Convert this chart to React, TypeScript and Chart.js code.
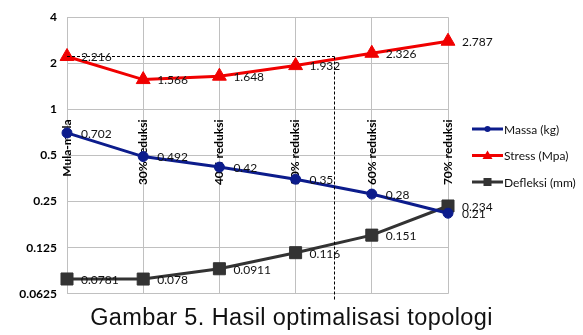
import React, { useEffect, useRef } from "react";
import { Chart, registerables } from "chart.js";

Chart.register(...registerables);

// Optimisation stages
const categories = ["Mula-mula", "30% reduksi", "40% reduksi", "50% reduksi", "60% reduksi", "70% reduksi"];

// Series values
const massa = [0.702, 0.492, 0.42, 0.35, 0.28, 0.21];
const stress = [2.216, 1.566, 1.648, 1.932, 2.326, 2.787];
const defleksi = [0.0781, 0.078, 0.0911, 0.116, 0.151, 0.234];

// Log-2 value axis ticks
const yTicks = [0.0625, 0.125, 0.25, 0.5, 1, 2, 4];
const yTickLabels = ["0.0625", "0.125", "0.25", "0.5", "1", "2", "4"];

// Reference level of the initial stress and where it is met again along the stages
const refStress = 2.216;
const refStage = 3.51;

const seriesNames = ["Massa (kg)", "Stress (Mpa)", "Defleksi (mm)"];
const seriesColors = ["#0c1c8c", "#f00000", "#333333"];
const seriesMarkers = ["circle", "triangle", "rect"];

const caption = "Gambar 5. Hasil optimalisasi topologi";

const LABEL_FONT = "12px Lato, 'Open Sans', sans-serif";

const valueLabels = {
  id: "valueLabels",
  afterDatasetsDraw(chart: any) {
    const ctx = chart.ctx;
    ctx.save();
    ctx.font = LABEL_FONT;
    ctx.fillStyle = "#111";
    ctx.textAlign = "left";
    ctx.textBaseline = "middle";
    chart.data.datasets.forEach((ds: any, di: number) => {
      const meta = chart.getDatasetMeta(di);
      meta.data.forEach((pt: any, i: number) => {
        ctx.fillText(String(ds.data[i]), pt.x + 14, pt.y + 1);
      });
    });
    ctx.restore();
  },
};

const refLines = {
  id: "refLines",
  afterDraw(chart: any) {
    const { ctx, chartArea } = chart;
    const xs = chart.scales.x;
    const ys = chart.scales.y;
    const y = ys.getPixelForValue(refStress);
    const x0 = xs.getPixelForValue(0);
    const x1 = xs.getPixelForValue(refStage);
    ctx.save();
    ctx.strokeStyle = "#000";
    ctx.lineWidth = 1;
    ctx.setLineDash([3, 2]);
    ctx.beginPath();
    ctx.moveTo(x0, Math.round(y) + 0.5);
    ctx.lineTo(x1, Math.round(y) + 0.5);
    ctx.moveTo(Math.round(x1) + 0.5, Math.round(y) + 0.5);
    ctx.lineTo(Math.round(x1) + 0.5, chartArea.bottom + 6);
    ctx.stroke();
    ctx.restore();
  },
};

function drawMarker(ctx: CanvasRenderingContext2D, kind: string, cx: number, cy: number, r: number) {
  ctx.beginPath();
  if (kind === "circle") {
    ctx.arc(cx, cy, r, 0, Math.PI * 2);
  } else if (kind === "triangle") {
    ctx.moveTo(cx, cy - r);
    ctx.lineTo(cx + r, cy + r * 0.7);
    ctx.lineTo(cx - r, cy + r * 0.7);
    ctx.closePath();
  } else {
    ctx.rect(cx - r, cy - r, 2 * r, 2 * r);
  }
  ctx.fill();
}

const sideLegend = {
  id: "sideLegend",
  afterDraw(chart: any) {
    const { ctx, chartArea } = chart;
    const mid = (chartArea.top + chartArea.bottom) / 2;
    const gap = 26.5;
    const x0 = chartArea.right + 24;
    const len = 31;
    ctx.save();
    seriesNames.forEach((name, i) => {
      const y = mid + (i - 1) * gap;
      ctx.strokeStyle = seriesColors[i];
      ctx.fillStyle = seriesColors[i];
      ctx.lineWidth = 3;
      ctx.beginPath();
      ctx.moveTo(x0, y);
      ctx.lineTo(x0 + len, y);
      ctx.stroke();
      const r = i === 0 ? 3 : i === 1 ? 5 : 4;
      drawMarker(ctx, seriesMarkers[i], x0 + len / 2, y, r);
      ctx.fillStyle = "#111";
      ctx.font = LABEL_FONT;
      ctx.textAlign = "left";
      ctx.textBaseline = "middle";
      ctx.fillText(name, x0 + len + 1, y + 1);
    });
    ctx.restore();
  },
};

export default function App() {
  const canvasRef = useRef<HTMLCanvasElement | null>(null);

  useEffect(() => {
    document.body.style.margin = "0";
    const canvas = canvasRef.current;
    if (!canvas) return;
    const seriesData = [massa, stress, defleksi];
    const chart = new Chart(canvas, {
      type: "line",
      data: {
        labels: categories,
        datasets: seriesData.map((d, i) => ({
          label: seriesNames[i],
          data: d,
          borderColor: seriesColors[i],
          backgroundColor: seriesColors[i],
          pointBackgroundColor: seriesColors[i],
          pointBorderColor: seriesColors[i],
          pointStyle: seriesMarkers[i] as any,
          pointRadius: i === 0 ? 5 : i === 1 ? 8 : 8.5,
          pointBorderWidth: 1,
          borderWidth: 3,
          tension: 0,
          fill: false,
        })),
      },
      options: {
        responsive: false,
        animation: false,
        layout: { padding: { top: 16, right: 135, bottom: 0, left: 0 } },
        plugins: {
          legend: { display: false },
          tooltip: { enabled: false },
        },
        scales: {
          x: {
            type: "category",
            position: { y: 1 } as any,
            offset: false,
            afterFit: (scale: any) => {
              scale.height = 0;
            },
            grid: { color: "#c0c0c0", lineWidth: 1, drawTicks: false },
            border: { display: false },
            ticks: {
              minRotation: 90,
              maxRotation: 90,
              autoSkip: false,
              padding: 10,
              color: "#000",
              font: { family: "Lato, 'Open Sans', sans-serif", size: 12, weight: "bold" },
            },
          },
          y: {
            type: "logarithmic",
            min: 0.0625,
            max: 4,
            afterFit: (scale: any) => {
              scale.width = 67;
            },
            afterBuildTicks: (scale: any) => {
              scale.ticks = yTicks.map((v) => ({ value: v }));
            },
            grid: { color: "#c0c0c0", lineWidth: 1, drawTicks: false },
            border: { display: false },
            ticks: {
              padding: 10,
              color: "#000",
              font: { family: "Lato, 'Open Sans', sans-serif", size: 12, weight: "bold" },
              callback: (_v: any, i: number) => yTickLabels[i],
            },
          },
        },
      },
      plugins: [valueLabels, refLines, sideLegend],
    });
    return () => chart.destroy();
  }, []);

  return (
    <div style={{ position: "relative", width: 583, height: 335, background: "#fff" }}>
      <canvas
        ref={canvasRef}
        width={583}
        height={311}
        style={{ position: "absolute", top: 0, left: 0, display: "block", width: 583, height: 311 }}
      />
      <div
        style={{
          position: "absolute",
          top: 304,
          left: 0,
          width: 583,
          textAlign: "center",
          fontFamily: "'Liberation Sans', Arial, sans-serif",
          fontSize: 23.5,
          letterSpacing: "0.4px",
          lineHeight: "27px",
          color: "#111",
        }}
      >
        {caption}
      </div>
    </div>
  );
}
